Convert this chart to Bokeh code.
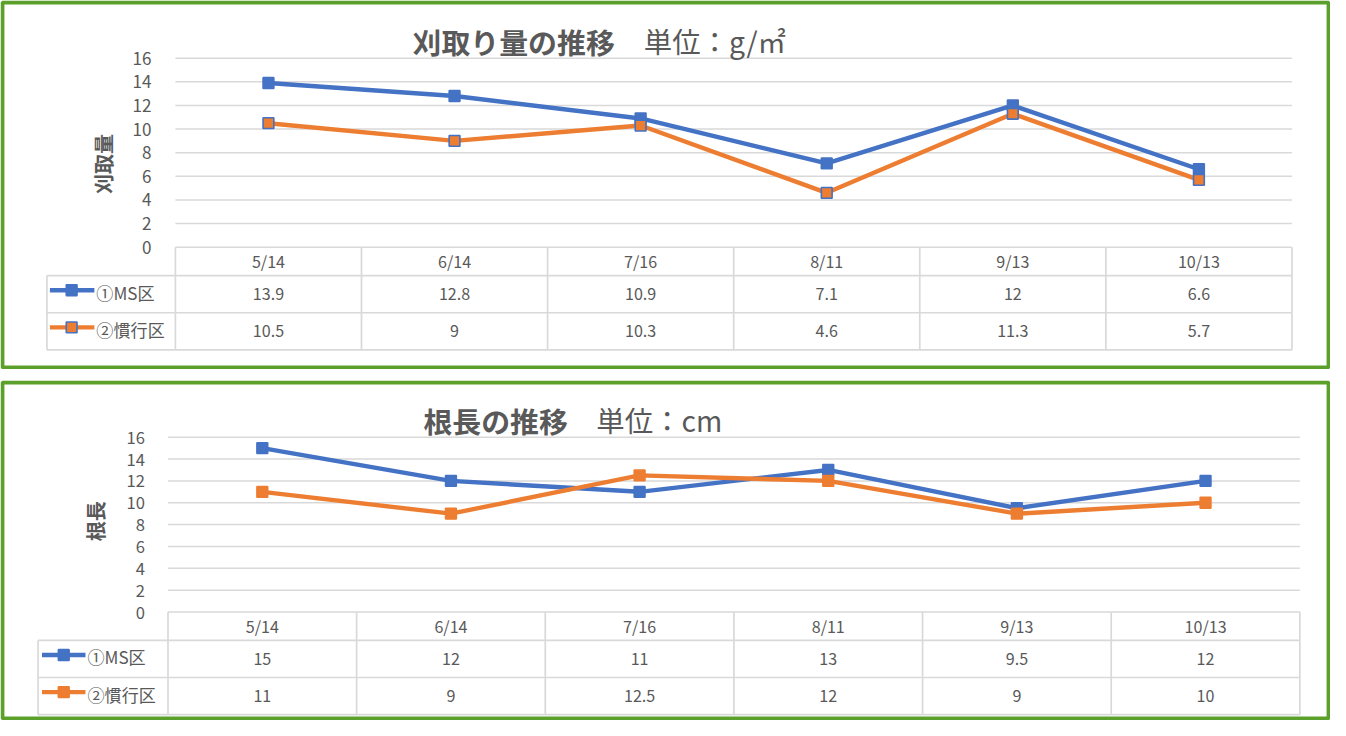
import numpy as np
from bokeh.plotting import figure
from bokeh.models import ColumnDataSource, Range1d, LinearAxis, FixedTicker
from bokeh.layouts import column
from bokeh.core.properties import value
from bokeh.embed import file_html
from bokeh.resources import INLINE

# ---------------- data ----------------
categories = ["5/14", "6/14", "7/16", "8/11", "9/13", "10/13"]
series_names = ["①MS区", "②慣行区"]
yield_ms = [13.9, 12.8, 10.9, 7.1, 12, 6.6]
yield_conv = [10.5, 9, 10.3, 4.6, 11.3, 5.7]
root_ms = [15, 12, 11, 13, 9.5, 12]
root_conv = [11, 9, 12.5, 12, 9, 10]
y_ticks = [0, 2, 4, 6, 8, 10, 12, 14, 16]

title1_bold = "刈取り量の推移"
title1_unit = "単位：g/㎡"
title2_bold = "根長の推移"
title2_unit = "単位：cm"
ylabel1 = "刈取量"
ylabel2 = "根長"

# ---------------- style ----------------
BLUE = "#4472C4"
ORANGE = "#ED7D31"
GREEN = "#5BA02B"
GRID = "#D9D9D9"
TXT = "#595959"
FONT = value("Noto Sans CJK JP")
KX = 1330 / 1346
KY = 720 / 736


def fs(s):
    return f"{s * KY:.1f}px"


def panel(geo, ms, conv, tbold, tunit, ylab, conv_outline):
    L, R, T, B = geo["box"]
    x0, x6, y0, y16 = geo["plot"]
    ncat = len(categories)
    ymax = y_ticks[-1]
    sx = (x6 - x0) / ncat
    sy = (y0 - y16) / ymax

    def X(px):
        return (px - x0) / sx

    def Y(py):
        return (y0 - py) / sy

    W = round((R - L) * KX)
    H = round((B - T) * KY)
    p = figure(width=W, height=H, x_range=Range1d(X(L), X(R)), y_range=Range1d(Y(B), Y(T)),
               output_backend="svg", toolbar_location=None, x_axis_location=None,
               y_axis_location=None, min_border=0, outline_line_color=None,
               background_fill_color="white", border_fill_color="white")
    p.grid.visible = False

    # y axis at x = 0
    ax = LinearAxis(ticker=FixedTicker(ticks=y_ticks), fixed_location=0)
    ax.axis_line_color = None
    ax.major_tick_line_color = None
    ax.minor_tick_line_color = None
    ax.major_label_standoff = geo["standoff"]
    ax.major_label_text_font = "Noto Sans CJK JP"
    ax.major_label_text_font_size = fs(geo["tick_fs"])
    ax.major_label_text_color = TXT
    p.add_layout(ax, "left")

    # gridlines
    gsrc = ColumnDataSource(dict(x0=[0] * len(y_ticks), x1=[ncat] * len(y_ticks), y=y_ticks))
    p.segment(x0="x0", y0="y", x1="x1", y1="y", source=gsrc, line_color=GRID, line_width=1.5)

    # table
    hb, r1, r2 = geo["rows"]
    lleft = geo["legend_left"]
    hx0 = [X(lleft), X(lleft), X(lleft)]
    hx1 = [ncat, ncat, ncat]
    hy = [Y(hb), Y(r1), Y(r2)]
    p.segment(x0=hx0, y0=hy, x1=hx1, y1=hy, line_color=GRID, line_width=1.7)
    vx = list(range(ncat + 1))
    p.segment(x0=vx, y0=[0] * len(vx), x1=vx, y1=[Y(r2)] * len(vx), line_color=GRID, line_width=1.7)
    p.segment(x0=[X(lleft)], y0=[Y(hb)], x1=[X(lleft)], y1=[Y(r2)], line_color=GRID, line_width=1.7)

    xc = list(np.arange(ncat) + 0.5)
    hc = Y((y0 + hb) / 2)
    c1 = Y((hb + r1) / 2)
    c2 = Y((r1 + r2) / 2)
    tsrc = ColumnDataSource(dict(
        x=xc * 3,
        y=[hc] * ncat + [c1] * ncat + [c2] * ncat,
        t=categories + [f"{v:g}" for v in ms] + [f"{v:g}" for v in conv]))
    p.text(x="x", y="y", text="t", source=tsrc, text_font=FONT, text_font_size=fs(16.5),
           text_color=TXT, text_align="center", text_baseline="middle")

    # legend in table
    lx0, lx1, lmk, ltx = geo["legend_x"]
    for cy, col, mline, name in [(c1, BLUE, BLUE, series_names[0]),
                                 (c2, ORANGE, conv_outline, series_names[1])]:
        ly = cy + 4 / sy
        p.line(x=[X(lx0), X(lx1)], y=[ly, ly], line_color=col, line_width=4.5 * KY)
        p.scatter(x=[X(lmk)], y=[ly], marker="square", size=11 * KY, fill_color=col,
                  line_color=mline, line_width=1.6)
        p.text(x=[X(ltx)], y=[cy + 2 / sy], text=[name], text_font=FONT, text_font_size=fs(17.5),
               text_color=TXT, text_align="left", text_baseline="middle")

    # series
    for vals, col, mline in [(ms, BLUE, BLUE), (conv, ORANGE, conv_outline)]:
        src = ColumnDataSource(dict(x=xc, y=vals))
        p.line(x="x", y="y", source=src, line_color=col, line_width=4.5 * KY, line_join="round")
        p.scatter(x="x", y="y", source=src, marker="square", size=11 * KY, fill_color=col,
                  line_color=mline, line_width=1.6)

    # title
    tx_b, tx_u, ty = geo["title"]
    p.text(x=[X(tx_b)], y=[Y(ty)], text=[tbold], text_font=FONT, text_font_style="bold",
           text_font_size=fs(29.5), text_color=TXT, text_align="left", text_baseline="middle")
    p.text(x=[X(tx_u)], y=[Y(ty)], text=[tunit], text_font=FONT, text_font_size=fs(29),
           text_color=TXT, text_align="left", text_baseline="middle")

    # y label
    lbx, lby = geo["ylabel"]
    p.text(x=[X(lbx)], y=[Y(lby)], text=[ylab], text_font=FONT, text_font_style="bold",
           text_font_size=fs(20.5), text_color=TXT, text_align="center", text_baseline="middle",
           angle=np.pi / 2)

    # green frame
    p.quad(left=[X(L + 2)], right=[X(R - 2)], top=[Y(T + 2)], bottom=[Y(B - 2)],
           fill_color=None, line_color=GREEN, line_width=4 * KY)
    return p


geo1 = dict(box=(0, 1346, 0, 377), plot=(177, 1307, 252, 59), rows=(281, 319, 357),
            legend_left=47, legend_x=(50, 95, 72, 97), title=(417, 651, 41),
            ylabel=(104, 167), standoff=18, tick_fs=17.5)
geo2 = dict(box=(0, 1346, 388, 736), plot=(169.5, 1315, 625, 446), rows=(654, 692, 730),
            legend_left=38, legend_x=(42, 86, 64, 88), title=(428, 603, 428),
            ylabel=(96, 532), standoff=17, tick_fs=17)

p1 = panel(geo1, yield_ms, yield_conv, title1_bold, title1_unit, ylabel1, BLUE)
p2 = panel(geo2, root_ms, root_conv, title2_bold, title2_unit, ylabel2, ORANGE)

layout = column(p1, p2, spacing=round(11 * KY))
open("out.html", "w").write(file_html(layout, INLINE))
